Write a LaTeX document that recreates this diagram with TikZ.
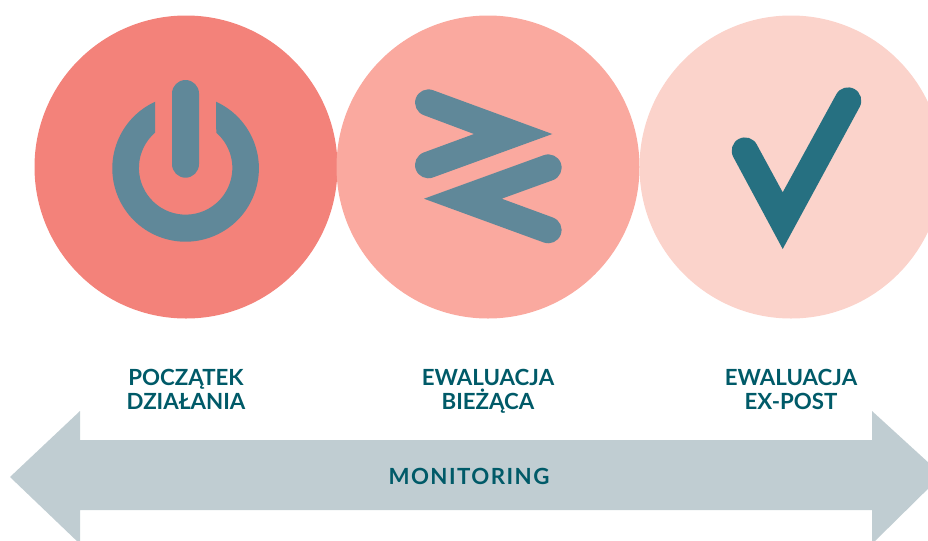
\documentclass[tikz,border=0pt]{standalone}
\usepackage{fontspec}
\setmainfont{Lato}
\definecolor{cA}{HTML}{F3827A}
\definecolor{cB}{HTML}{FAA99F}
\definecolor{cC}{HTML}{FBD3CB}
\definecolor{icon}{HTML}{608899}
\definecolor{chk}{HTML}{267081}
\definecolor{band}{HTML}{C0CDD2}
\definecolor{ink}{HTML}{005A68}
\tikzset{
  lab/.style={text=ink,font=\fontsize{16.7}{18}\selectfont\bfseries,align=center,anchor=base,inner sep=0pt},
  mon/.style={text=ink,font=\fontsize{16.7}{18}\selectfont\bfseries\addfontfeatures{LetterSpace=6.5},anchor=base,inner sep=0pt}
}
\begin{document}
\begin{tikzpicture}[x=.75pt,y=.75pt]
\useasboundingbox (0,0) rectangle (928,-540);
\clip (0,0) rectangle (928,-540);
% circles
\fill[cA] (186,-167) circle[radius=151.5];
\fill[cB] (488,-167) circle[radius=151.5];
\fill[cC] (791,-167) circle[radius=151.5];
% power icon
\fill[icon] (216,-101.7) arc[start angle=65.5,end angle=-245.5,radius=73.3]
  -- (155,-132.7) arc[start angle=131,end angle=409,radius=46.7] -- cycle;
\fill[icon,rounded corners=13.5*.75pt] (172,-80) rectangle (199,-177.7);
% zigzag icon
\fill[icon] (552.3,-134) -- (433,-90.2) arc[start angle=69.7,end angle=249.7,radius=13.3]
  -- (474,-134) -- (423.7,-152.5) arc[start angle=110.3,end angle=290.3,radius=13.3] -- cycle;
\fill[icon] (424,-198.7) -- (543.7,-155.2) arc[start angle=110.3,end angle=-69.7,radius=13.3]
  -- (501.7,-198.7) -- (552.9,-217.5) arc[start angle=69.7,end angle=-110.3,radius=13.3] -- cycle;
% check icon
\fill[chk] (782.7,-249) -- (859.6,-107.1) arc[start angle=-29,end angle=151,radius=13.3]
  -- (782.7,-192.3) -- (756.7,-144.4) arc[start angle=28.3,end angle=208.3,radius=13.3] -- cycle;
% arrow
\fill[band] (10,-477) -- (80,-411) -- (80,-440) -- (872,-440) -- (872,-411) -- (942,-475)
  -- (872,-544) -- (872,-510) -- (80,-510) -- (80,-544) -- cycle;
% labels
\node[lab] (start) at (186,-409) {POCZĄTEK\\DZIAŁANIA};
\node[lab] (current) at (488,-409) {EWALUACJA\\BIEŻĄCA};
\node[lab] (expost) at (791,-409) {EWALUACJA\\EX-POST};
\node[mon] (monitoring) at (469,-484) {MONITORING};
\end{tikzpicture}
\end{document}
